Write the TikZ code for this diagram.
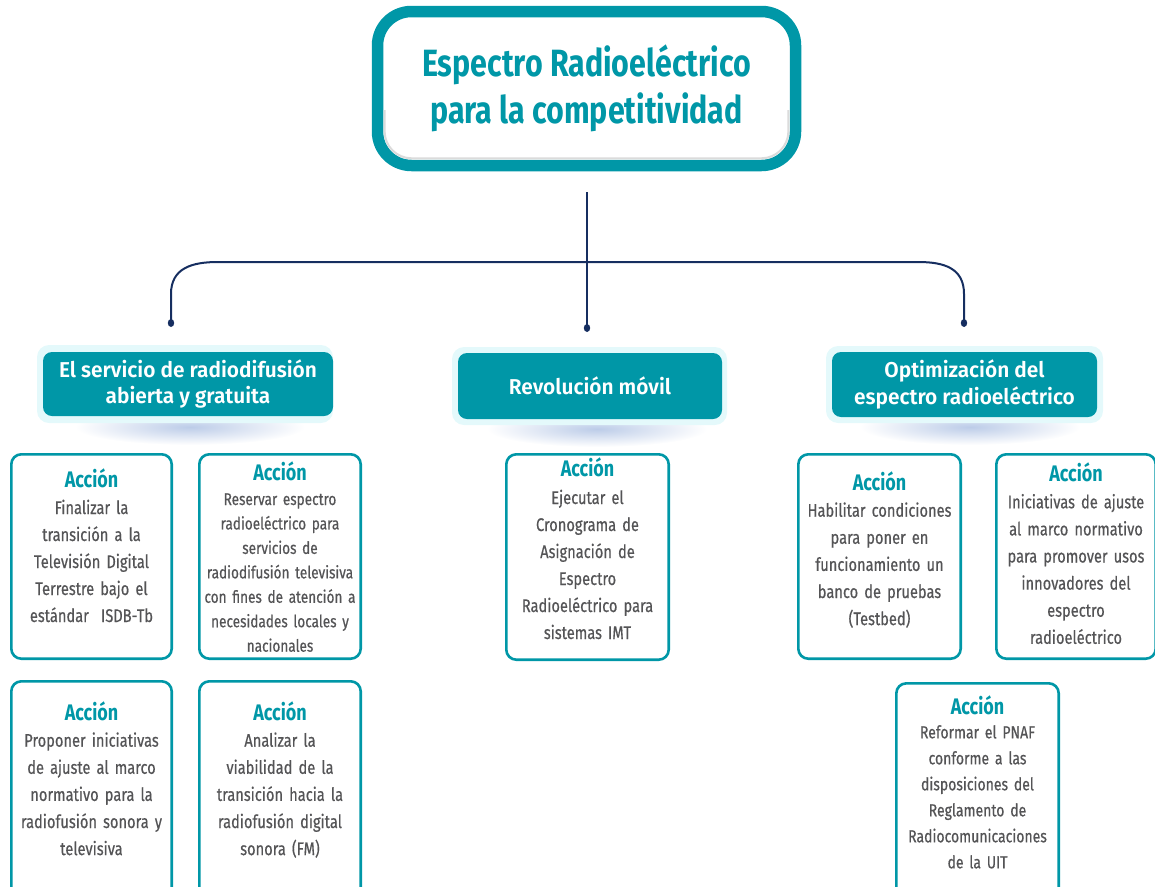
\documentclass[tikz,border=0pt]{standalone}
\usepackage{fontspec}
\setmainfont{Fira Sans}
\newfontfamily\condf{Fira Sans}[FakeStretch=0.8, WordSpace=0.7, FakeBold=0.5]
\newfontfamily\accf{Fira Sans}[FakeStretch=0.8]
\newfontfamily\titlef{Fira Sans}[FakeStretch=0.8]
\newfontfamily\headf{Fira Sans SemiBold}[FakeStretch=0.97]
\usetikzlibrary{calc}
\definecolor{tealc}{RGB}{0,151,167}
\definecolor{navy}{RGB}{22,46,96}
\definecolor{txtgray}{RGB}{84,84,86}
\definecolor{glowc}{RGB}{228,249,251}
\definecolor{shadc}{RGB}{188,204,232}
\tikzset{
  titlebox/.style={draw=tealc, line width=11.5pt, fill=white, rounded corners=34pt, inner sep=0pt,
    minimum width=418pt, minimum height=154pt, align=center, text=tealc,
    font=\titlef\bfseries\fontsize{38}{47.7}\selectfont},
  conn/.style={draw=navy, line width=2pt},
  catbox/.style={fill=tealc, rounded corners=9pt, text=white, align=center, inner sep=0pt,
    font=\headf\fontsize{21.5}{26.7}\selectfont},
  glowbox/.style={fill=glowc, rounded corners=12pt},
  actframe/.style={draw=tealc, line width=2.6pt, rounded corners=10pt, fill=white, inner sep=0pt},
  acctitle/.style={text=tealc, inner sep=0pt, font=\accf\bfseries\fontsize{22.5}{26}\selectfont},
  actbody/.style={text=txtgray, inner sep=0pt, align=center, text width=170pt}
}
\newcommand\actbox[9]{%
  \node[actframe, minimum width=#4pt, minimum height=#5pt] (#1) at (#2,#3) {};
  \node[acctitle, anchor=base] (#1h) at (#2,#6) {Acción};
  \node[actbody, anchor=base, font=#8] (#1b) at (#2,#7) {#9};
}
\begin{document}
\begin{tikzpicture}[x=1pt,y=-1pt]
\useasboundingbox (0,0) rectangle (1155,886);
\clip (0,0) rectangle (1155,886);

% title
\node[titlebox] (title) at (586.5,88.5) {};
\draw[black!14, line width=2pt, rounded corners=27pt] (384.6,110) -- (384.6,158.3) -- (788.4,158.3) -- (788.4,110);
\node[text=tealc, align=center, inner sep=0pt, font=\titlef\bfseries\fontsize{38}{47.7}\selectfont]
  (titletext) at (title.center) {Espectro Radioeléctrico\\para la competitividad};

% connectors
\coordinate (top) at (587,192);
\coordinate (ldot) at (171,323);
\coordinate (cdot) at (587,328);
\coordinate (rdot) at (964,323);
\draw[conn] (top) -- (cdot);
\draw[conn] (ldot) -- (171,294) .. controls (171,268) and (192,262) .. (218,262)
  -- (918,262) .. controls (944,262) and (964,268) .. (964,294) -- (rdot);
\fill[navy] (ldot) ellipse [x radius=3.2pt, y radius=4pt];
\fill[navy] (cdot) ellipse [x radius=3.2pt, y radius=4pt];
\fill[navy] (rdot) ellipse [x radius=3.2pt, y radius=4pt];

% category shadows and glows
\shade[inner color=shadc, outer color=white] (190,427) ellipse [x radius=115pt, y radius=18pt];
\shade[inner color=shadc, outer color=white] (597,429) ellipse [x radius=110pt, y radius=18pt];
\shade[inner color=shadc, outer color=white] (970,427) ellipse [x radius=110pt, y radius=18pt];
\fill[glowbox] (37,345) rectangle (333,423);
\fill[glowbox] (452,347) rectangle (727,425);
\fill[glowbox] (826,346) rectangle (1103,423);

\node[catbox, minimum width=290pt, minimum height=64pt] (cat1) at (188,384)
  {El servicio de radiodifusión\\abierta y gratuita};
\node[catbox, minimum width=264pt, minimum height=66pt] (cat2) at (590,386)
  {Revolución móvil};
\node[catbox, minimum width=265pt, minimum height=65pt] (cat3) at (964.5,384.5)
  {Optimización del\\espectro radioeléctrico};

% action boxes
\actbox{a1}{91.5}{556.5}{160.4}{204.4}{487}{514}{\condf\fontsize{18.3}{27}\selectfont}
  {Finalizar la\\transición a la\\Televisión Digital\\Terrestre bajo el\\estándar\ \ ISDB-Tb}
\actbox{a2}{280}{556.5}{161.4}{204.4}{480.7}{505}{\condf\fontsize{17}{24.45}\selectfont}
  {Reservar espectro\\radioeléctrico para\\servicios de\\radiodifusión televisiva\\con fines de atención a\\necesidades locales y\\nacionales}
\actbox{a3}{91.5}{792.5}{160.4}{222.4}{720.7}{746.7}{\condf\fontsize{18.3}{27.1}\selectfont}
  {Proponer iniciativas\\de ajuste al marco\\normativo para la\\radiofusión sonora y\\televisiva}
\actbox{a4}{280}{792.5}{161.4}{222.4}{720.7}{746.7}{\condf\fontsize{18.3}{27.1}\selectfont}
  {Analizar la\\viabilidad de la\\transición hacia la\\radiofusión digital\\sonora (FM)}
\actbox{a5}{587.5}{557}{162.4}{205.4}{476.7}{504}{\condf\fontsize{18.3}{27}\selectfont}
  {Ejecutar el\\Cronograma de\\Asignación de\\Espectro\\Radioeléctrico para\\sistemas IMT}
\actbox{a6}{879.5}{556.5}{162.4}{204.4}{490}{516.7}{\condf\fontsize{18.3}{27.1}\selectfont}
  {Habilitar condiciones\\para poner en\\funcionamiento un\\banco de pruebas\\(Testbed)}
\actbox{a7}{1076}{556.5}{159.4}{204.4}{481.7}{508.3}{\condf\fontsize{18.3}{27.1}\selectfont}
  {Iniciativas de ajuste\\al marco normativo\\para promover usos\\innovadores del\\espectro\\radioeléctrico}
\actbox{a8}{977.5}{793.5}{162.4}{220.4}{714}{738.3}{\condf\fontsize{17.5}{26}\selectfont}
  {Reformar el PNAF\\conforme a las\\disposiciones del\\Reglamento de\\Radiocomunicaciones\\de la UIT}
\end{tikzpicture}
\end{document}
